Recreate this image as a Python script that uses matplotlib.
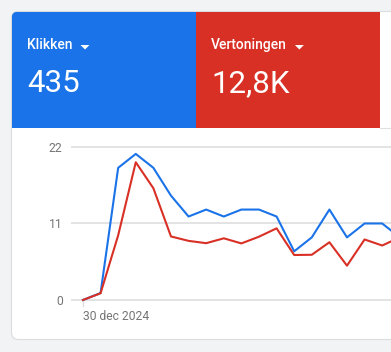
import matplotlib
matplotlib.use("Agg")
import matplotlib.pyplot as plt
from matplotlib.patches import FancyBboxPatch, Rectangle, Polygon

# ---- data ----
metric_names = ["Klikken", "Vertoningen"]
metric_totals = ["435", "12,8K"]
clicks = [0, 1, 19, 21, 19, 15, 12, 13, 12, 13, 13, 12, 7, 9, 13, 9, 11, 11, 9]
impressions = [0, 29, 279, 594, 482, 274, 255, 245, 266, 244, 273, 309, 194, 195, 249, 148, 261, 235, 270]
y_ticks = [0, 11, 22]
x_tick_label = "30 dec 2024"

W, H = 391, 352
fig = plt.figure(figsize=(W / 100, H / 100), dpi=100)
plt.rcParams['font.family'] = ['Roboto', 'DejaVu Sans']

def fx(px):
    return px / W

def fy(py):
    return 1 - py / H

bg = fig.add_axes([0, 0, 1, 1])
bg.set_xlim(0, W)
bg.set_ylim(H, 0)
bg.axis("off")
bg.add_patch(Rectangle((0, 0), W, H, facecolor="#f1f3f4", edgecolor="none"))
card = FancyBboxPatch((11.5, 11.5), 420, 328, boxstyle="round,pad=0,rounding_size=7",
                      facecolor="white", edgecolor="#dadce0", linewidth=0.8)
bg.add_patch(card)
blue_r = Rectangle((11.5, 11.5), 184, 116.5, facecolor="#1a73e8", edgecolor="none")
red_r = Rectangle((195.5, 11.5), 184, 116.5, facecolor="#d93025", edgecolor="none")
for r in (blue_r, red_r):
    bg.add_patch(r)
    r.set_clip_path(card)
bg.plot([379.5, W], [127.5, 127.5], color="#e0e0e0", lw=0.8)

for i, (name, tot) in enumerate(zip(metric_names, metric_totals)):
    x0 = 27 + 184 * i
    bg.text(x0, 45, name, color="white", fontsize=10, va="center", ha="left", fontweight="medium")
    bg.text(x0, 84, tot, color="white", fontsize=22.5, va="center", ha="left")

fig.canvas.draw()
rend = fig.canvas.get_renderer()
for t in bg.texts[::2]:
    bb = t.get_window_extent(rend)
    xr = bb.x1 * W / fig.bbox.width + 8
    bg.add_patch(Polygon([[xr, 45], [xr + 9, 45], [xr + 4.5, 49.5]], closed=True,
                         facecolor="white", edgecolor="none"))

# ---- chart ----
ax = fig.add_axes([fx(71), fy(305), fx(391) - fx(71), fy(140) - fy(305)])
ax.set_xlim(-0.68, 17.5)
ylo, yhi = -0.72, 23.0
ax.set_ylim(ylo, yhi)
for s in ax.spines.values():
    s.set_visible(False)
ax.set_yticks(y_ticks)
ax.set_yticklabels([str(v) for v in y_ticks])
ax.tick_params(axis="y", length=0, pad=6, labelsize=8.7, labelcolor="#757575")
ax.set_xticks([])
for v in y_ticks:
    ax.axhline(v, color="#e3e3e3", lw=1.4, zorder=0)
ax.patch.set_alpha(0)
xs = list(range(len(clicks)))

ax2 = ax.twinx()
ax2.set_ylim(ylo * 30, yhi * 30)
ax2.axis("off")
ax.plot(xs, clicks, color="#1a73e8", lw=1.5, zorder=3)
ax2.plot(xs, impressions, color="#d93025", lw=1.5, zorder=4)

bg.plot([83, 83], [300, 306], color="#dadce0", lw=1)
bg.text(83, 316, x_tick_label, color="#757575", fontsize=8.7, ha="left", va="center")

fig.savefig("out.png", dpi=100)
